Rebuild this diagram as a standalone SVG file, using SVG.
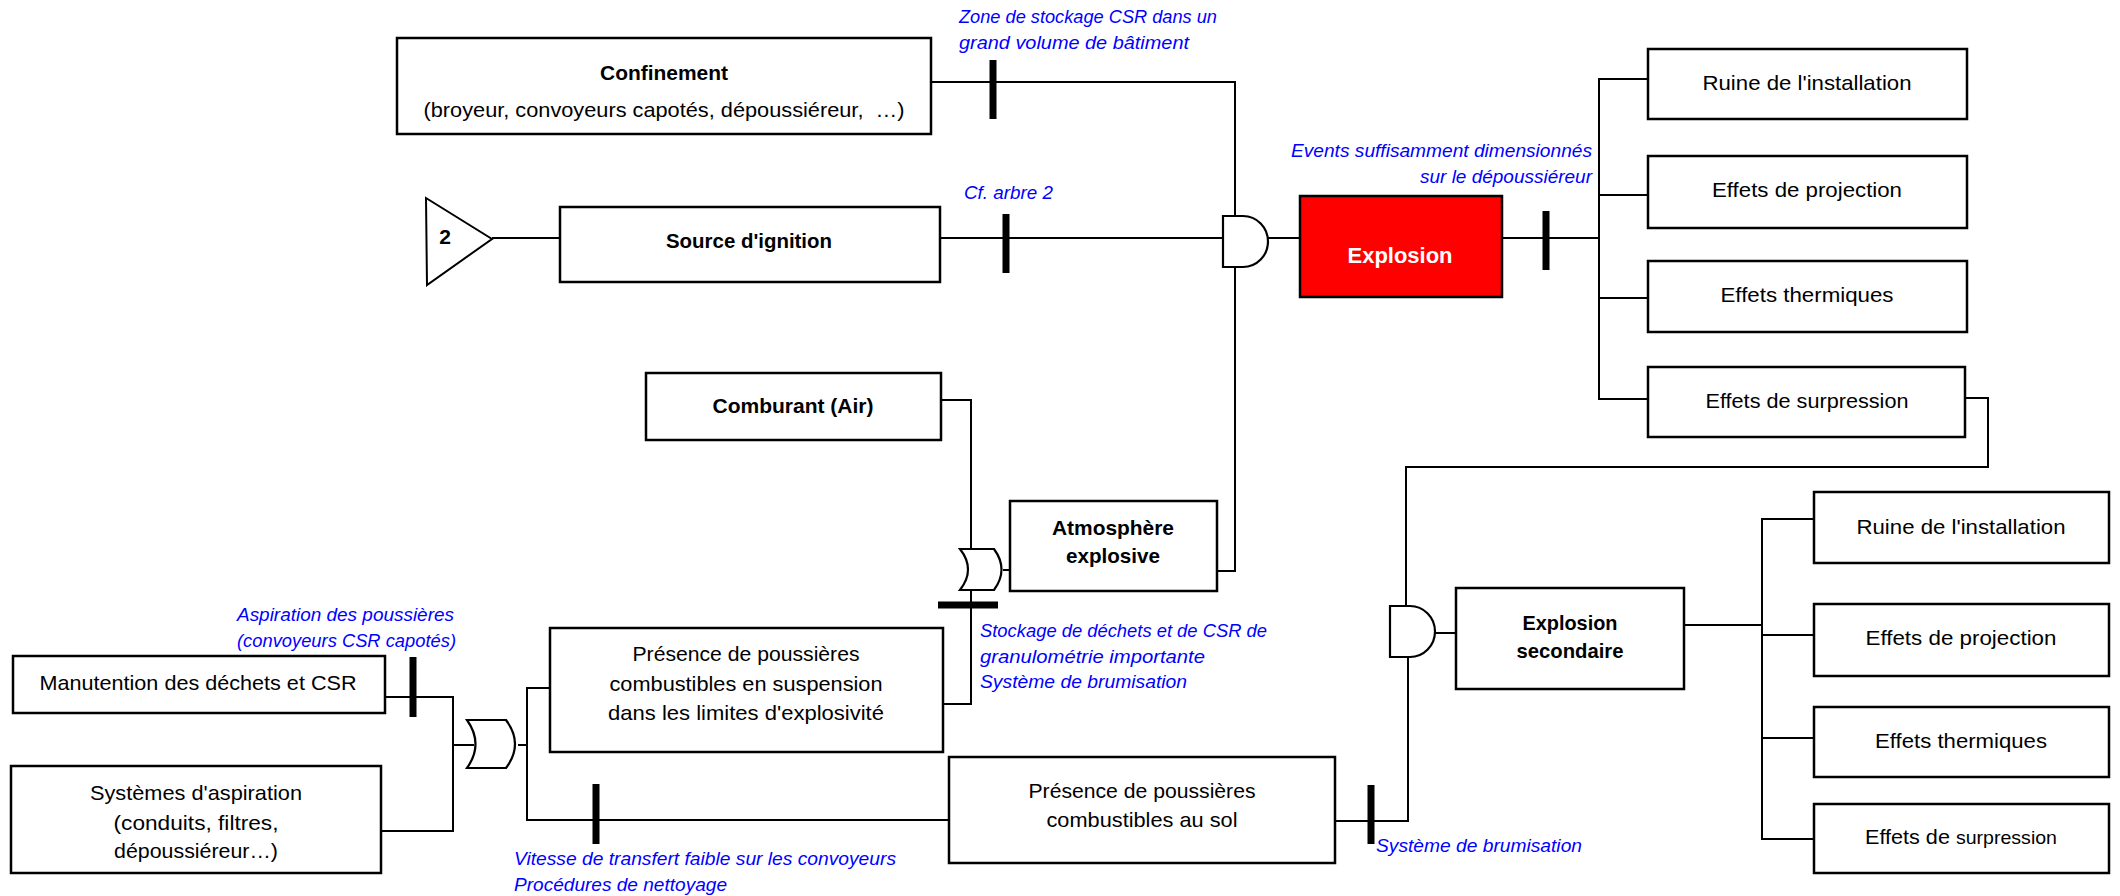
<svg xmlns="http://www.w3.org/2000/svg" width="2120" height="896" viewBox="0 0 2120 896">
  <style>
    .box { fill: #ffffff; stroke: #000000; stroke-width: 2.5; }
    .red { fill: #ff0000; stroke: #000000; stroke-width: 2.5; }
    .wire { fill: none; stroke: #000000; stroke-width: 2; }
    .gate { fill: #ffffff; stroke: #000000; stroke-width: 2.2; }
    .bar { fill: #000000; }
    .t { font-family: "Liberation Sans", Arial, sans-serif; font-size: 21px; text-anchor: middle; fill: #000000; }
    .b { font-weight: bold; }
    .w { fill: #ffffff; font-size: 22px; }
    .note { font-family: "Liberation Sans", Arial, sans-serif; font-size: 19px; font-style: italic; fill: #0000ff; }
    .end { text-anchor: end; }
    .pre { white-space: pre; }
  </style>
  <rect width="2120" height="896" fill="#ffffff"/>

  <!-- connectors -->
  <g id="connectors">
    <!-- confinement to AND gate -->
    <polyline class="wire" points="931,82 1235,82 1235,216"/>
    <!-- transfer triangle to ignition source -->
    <line class="wire" x1="492" y1="238" x2="560" y2="238"/>
    <line class="wire" x1="940" y1="238" x2="1223" y2="238"/>
    <!-- explosive atmosphere to AND gate -->
    <polyline class="wire" points="1217,571 1235,571 1235,267"/>
    <!-- AND gate to explosion -->
    <line class="wire" x1="1268" y1="238" x2="1300" y2="238"/>
    <line class="wire" x1="1502" y1="238" x2="1599" y2="238"/>
    <!-- consequences of the explosion -->
    <polyline class="wire" points="1648,79 1599,79 1599,399 1648,399"/>
    <line class="wire" x1="1599" y1="195" x2="1648" y2="195"/>
    <line class="wire" x1="1599" y1="298" x2="1648" y2="298"/>
    <!-- overpressure to secondary explosion gate -->
    <polyline class="wire" points="1965,398 1988,398 1988,467 1406,467 1406,606"/>
    <!-- oxidiser and suspended dust to OR gate -->
    <polyline class="wire" points="941,400 971,400 971,704 943,704"/>
    <line class="wire" x1="1003" y1="570" x2="1010" y2="570"/>
    <!-- handling and suction systems to lower OR gate -->
    <polyline class="wire" points="385,697 453,697 453,831 381,831"/>
    <line class="wire" x1="453" y1="745" x2="474" y2="745"/>
    <line class="wire" x1="518" y1="745" x2="527" y2="745"/>
    <polyline class="wire" points="550,688 527,688 527,820 949,820"/>
    <!-- settled dust to secondary explosion gate -->
    <polyline class="wire" points="1335,821 1408,821 1408,657"/>
    <line class="wire" x1="1435" y1="633" x2="1456" y2="633"/>
    <!-- secondary explosion consequences -->
    <line class="wire" x1="1684" y1="625" x2="1762" y2="625"/>
    <polyline class="wire" points="1814,519 1762,519 1762,839 1814,839"/>
    <line class="wire" x1="1762" y1="635" x2="1814" y2="635"/>
    <line class="wire" x1="1762" y1="738" x2="1814" y2="738"/>

    <!-- safety barriers -->
    <rect class="bar" x="989.5" y="60" width="7" height="59"/>
    <rect class="bar" x="1002.5" y="214" width="7" height="59"/>
    <rect class="bar" x="1542.5" y="211" width="7" height="59"/>
    <rect class="bar" x="938" y="601.5" width="60" height="7"/>
    <rect class="bar" x="409.5" y="657" width="7" height="60"/>
    <rect class="bar" x="592.5" y="784" width="7" height="60"/>
    <rect class="bar" x="1367.5" y="785" width="7" height="59"/>

    <!-- gates -->
    <path class="gate" d="M1223,216 H1243 A25,25.5 0 0 1 1243,267 H1223 Z"/>
    <path class="gate" d="M1390,606 H1410 A25,25.5 0 0 1 1410,657 H1390 Z"/>
    <path class="gate" d="M960,549 L994,549 Q1009,569.5 994,590 L960,590 Q976,569.5 960,549 Z"/>
    <path class="gate" d="M467,720 L506,720 Q524,744 506,768 L467,768 Q484,744 467,720 Z"/>
  </g>

  <!-- barrier notes -->
  <g id="notes">
    <text class="note" x="959" y="23" textLength="258" lengthAdjust="spacingAndGlyphs">Zone de stockage CSR dans un</text>
    <text class="note" x="959" y="49" textLength="230" lengthAdjust="spacingAndGlyphs">grand volume de bâtiment</text>
    <text class="note" x="964" y="199" textLength="89" lengthAdjust="spacingAndGlyphs">Cf. arbre 2</text>
    <text class="note end" x="1592" y="157" textLength="301" lengthAdjust="spacingAndGlyphs">Events suffisamment dimensionnés</text>
    <text class="note end" x="1592" y="183" textLength="172" lengthAdjust="spacingAndGlyphs">sur le dépoussiéreur</text>
    <text class="note" x="980" y="637" textLength="287" lengthAdjust="spacingAndGlyphs">Stockage de déchets et de CSR de</text>
    <text class="note" x="980" y="663" textLength="225" lengthAdjust="spacingAndGlyphs">granulométrie importante</text>
    <text class="note" x="980" y="688" textLength="207" lengthAdjust="spacingAndGlyphs">Système de brumisation</text>
    <text class="note" x="237" y="621" textLength="217" lengthAdjust="spacingAndGlyphs">Aspiration des poussières</text>
    <text class="note" x="237" y="647" textLength="219" lengthAdjust="spacingAndGlyphs">(convoyeurs CSR capotés)</text>
    <text class="note" x="514" y="865" textLength="382" lengthAdjust="spacingAndGlyphs">Vitesse de transfert faible sur les convoyeurs</text>
    <text class="note" x="514" y="891" textLength="213" lengthAdjust="spacingAndGlyphs">Procédures de nettoyage</text>
    <text class="note" x="1376" y="852" textLength="206" lengthAdjust="spacingAndGlyphs">Système de brumisation</text>
  </g>

  <g id="confinement">
    <rect class="box" x="397" y="38" width="534" height="96"/>
    <text class="t b" x="664" y="80" textLength="128" lengthAdjust="spacingAndGlyphs">Confinement</text>
    <text class="t pre" x="664" y="117" textLength="481" lengthAdjust="spacingAndGlyphs">(broyeur, convoyeurs capotés, dépoussiéreur,  …)</text>
  </g>

  <g id="transfer-2">
    <polygon points="426,198 492,239 427,285" fill="#ffffff" stroke="#000000" stroke-width="2"/>
    <text class="t b" x="445" y="244" font-size="24">2</text>
  </g>

  <g id="source-ignition">
    <rect class="box" x="560" y="207" width="380" height="75"/>
    <text class="t b" x="749" y="248" textLength="166" lengthAdjust="spacingAndGlyphs">Source d'ignition</text>
  </g>

  <g id="explosion">
    <rect class="red" x="1300" y="196" width="202" height="101"/>
    <text class="t b w" x="1400" y="263" textLength="105" lengthAdjust="spacingAndGlyphs">Explosion</text>
  </g>

  <g id="ruine-1">
    <rect class="box" x="1648" y="49" width="319" height="70"/>
    <text class="t" x="1807" y="90" textLength="209" lengthAdjust="spacingAndGlyphs">Ruine de l'installation</text>
  </g>
  <g id="projection-1">
    <rect class="box" x="1648" y="156" width="319" height="72"/>
    <text class="t" x="1807" y="197" textLength="190" lengthAdjust="spacingAndGlyphs">Effets de projection</text>
  </g>
  <g id="thermiques-1">
    <rect class="box" x="1648" y="261" width="319" height="71"/>
    <text class="t" x="1807" y="302" textLength="173" lengthAdjust="spacingAndGlyphs">Effets thermiques</text>
  </g>
  <g id="surpression-1">
    <rect class="box" x="1648" y="367" width="317" height="70"/>
    <text class="t" x="1807" y="408" textLength="203" lengthAdjust="spacingAndGlyphs">Effets de surpression</text>
  </g>

  <g id="comburant">
    <rect class="box" x="646" y="373" width="295" height="67"/>
    <text class="t b" x="793" y="413" textLength="161" lengthAdjust="spacingAndGlyphs">Comburant (Air)</text>
  </g>

  <g id="atmosphere-explosive">
    <rect class="box" x="1010" y="501" width="207" height="90"/>
    <text class="t b" x="1113" y="535" textLength="122" lengthAdjust="spacingAndGlyphs">Atmosphère</text>
    <text class="t b" x="1113" y="563" textLength="94" lengthAdjust="spacingAndGlyphs">explosive</text>
  </g>

  <g id="poussieres-suspension">
    <rect class="box" x="550" y="628" width="393" height="124"/>
    <text class="t" x="746" y="661" textLength="227" lengthAdjust="spacingAndGlyphs">Présence de poussières</text>
    <text class="t" x="746" y="691" textLength="273" lengthAdjust="spacingAndGlyphs">combustibles en suspension</text>
    <text class="t" x="746" y="720" textLength="276" lengthAdjust="spacingAndGlyphs">dans les limites d'explosivité</text>
  </g>

  <g id="manutention">
    <rect class="box" x="13" y="656" width="372" height="57"/>
    <text class="t" x="198" y="690" textLength="317" lengthAdjust="spacingAndGlyphs">Manutention des déchets et CSR</text>
  </g>

  <g id="systemes-aspiration">
    <rect class="box" x="11" y="766" width="370" height="107"/>
    <text class="t" x="196" y="800" textLength="212" lengthAdjust="spacingAndGlyphs">Systèmes d'aspiration</text>
    <text class="t" x="196" y="830" textLength="165" lengthAdjust="spacingAndGlyphs">(conduits, filtres,</text>
    <text class="t" x="196" y="858" textLength="164" lengthAdjust="spacingAndGlyphs">dépoussiéreur…)</text>
  </g>

  <g id="poussieres-sol">
    <rect class="box" x="949" y="757" width="386" height="106"/>
    <text class="t" x="1142" y="798" textLength="227" lengthAdjust="spacingAndGlyphs">Présence de poussières</text>
    <text class="t" x="1142" y="827" textLength="191" lengthAdjust="spacingAndGlyphs">combustibles au sol</text>
  </g>

  <g id="explosion-secondaire">
    <rect class="box" x="1456" y="588" width="228" height="101"/>
    <text class="t b" x="1570" y="630" textLength="95" lengthAdjust="spacingAndGlyphs">Explosion</text>
    <text class="t b" x="1570" y="658" textLength="107" lengthAdjust="spacingAndGlyphs">secondaire</text>
  </g>

  <g id="ruine-2">
    <rect class="box" x="1814" y="492" width="295" height="71"/>
    <text class="t" x="1961" y="534" textLength="209" lengthAdjust="spacingAndGlyphs">Ruine de l'installation</text>
  </g>
  <g id="projection-2">
    <rect class="box" x="1814" y="604" width="295" height="72"/>
    <text class="t" x="1961" y="645" textLength="191" lengthAdjust="spacingAndGlyphs">Effets de projection</text>
  </g>
  <g id="thermiques-2">
    <rect class="box" x="1814" y="707" width="295" height="70"/>
    <text class="t" x="1961" y="748" textLength="172" lengthAdjust="spacingAndGlyphs">Effets thermiques</text>
  </g>
  <g id="surpression-2">
    <rect class="box" x="1814" y="804" width="295" height="69"/>
    <text class="t" x="1961" y="844" textLength="192" lengthAdjust="spacingAndGlyphs">Effets de <tspan font-size="19px">surpression</tspan></text>
  </g>
</svg>
